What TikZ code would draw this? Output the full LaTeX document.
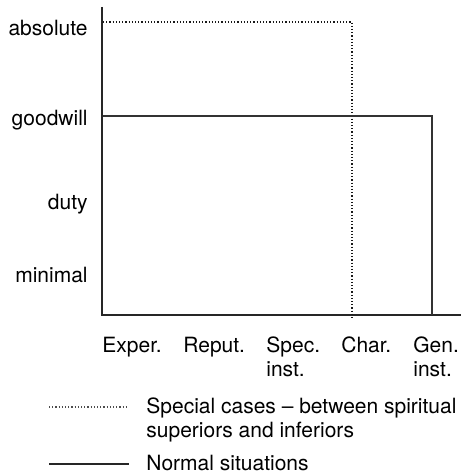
\documentclass[tikz,border=0pt]{standalone}
\usepackage{fontspec}
\setmainfont{TeX Gyre Heros}
\begin{document}
\begin{tikzpicture}[x=0.5pt,y=-0.5pt,
  axisline/.style={line width=1.1pt,black!85},
  normalline/.style={line width=0.7pt,black!80},
  specialline/.style={line width=0.6pt,black!90,dash pattern=on 0.6pt off 1.0pt},
  lbl/.style={inner sep=0pt,font=\fontsize{10.5}{12}\selectfont},
  ylbl/.style={lbl,anchor=base east},
  xlbl/.style={lbl,anchor=base west,align=left}]
\useasboundingbox (0,0) rectangle (461,475);

% axes
\coordinate (top) at (102,7);
\coordinate (origin) at (102,315);
\coordinate (xend) at (461,315);
\draw[axisline] (top) -- (origin) -- (xend);

% level labels
\node[ylbl] (absolute) at (88,36) {absolute};
\node[ylbl] (goodwill) at (88,126) {goodwill};
\node[ylbl] (duty) at (88,210) {duty};
\node[ylbl] (minimal) at (88,282) {minimal};

% source labels (two-line labels are placed by their last baseline)
\node[xlbl] (exper) at (102,352) {Exper.};
\node[xlbl] (reput) at (183,352) {Reput.};
\node[xlbl] (spec) at (266,376) {Spec.\\inst.};
\node[xlbl] (char) at (341,352) {Char.};
\node[xlbl] (gen) at (413,376) {Gen.\\inst.};

% special cases
\coordinate (s1) at (103,22);
\coordinate (s2) at (352,22);
\coordinate (s3) at (352,318);
\draw[specialline] (s1) -- (s2) -- (s3);

% normal situations
\coordinate (n1) at (103,116);
\coordinate (n2) at (432,116);
\coordinate (n3) at (432,315);
\draw[normalline] (n1) -- (n2) -- (n3);

% legend
\coordinate (ls1) at (49,407);
\coordinate (ls2) at (128,407);
\draw[specialline,black!70] (ls1) -- (ls2);
\node[xlbl] (legspecial) at (146,437) {Special cases -- between spiritual\\superiors and inferiors};
\coordinate (ln1) at (49,464);
\coordinate (ln2) at (129,464);
\draw[line width=1.1pt,black!85] (ln1) -- (ln2);
\node[xlbl] (legnormal) at (146,470) {Normal situations};
\end{tikzpicture}
\end{document}
